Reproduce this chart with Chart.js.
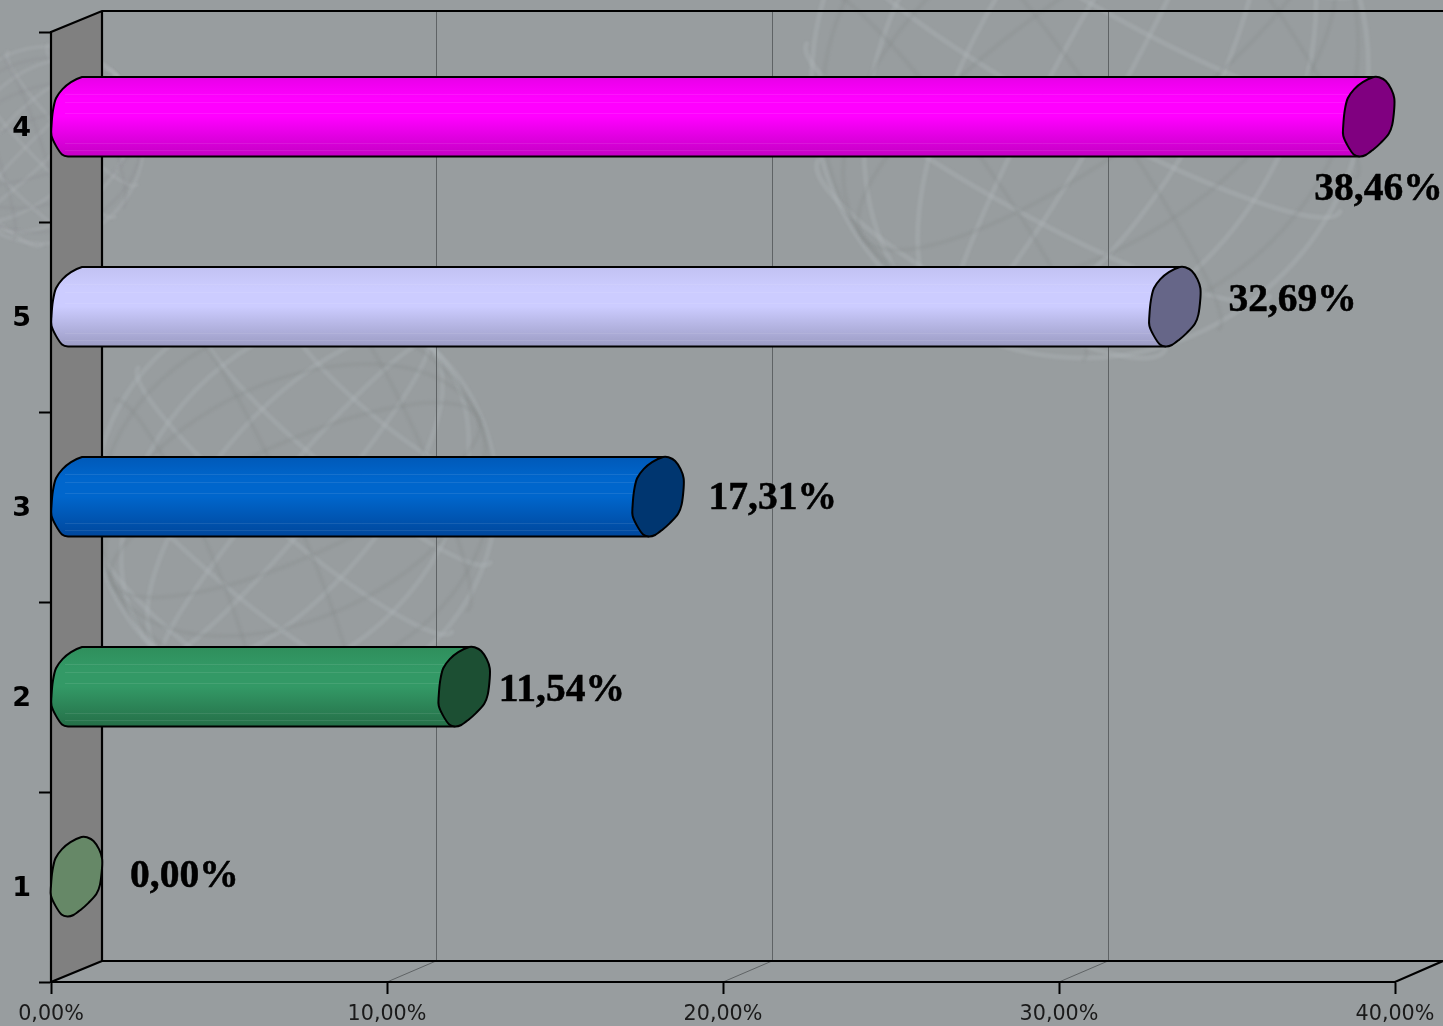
<!DOCTYPE html>
<html>
<head>
<meta charset="utf-8">
<style>html,body{margin:0;padding:0;background:#989d9f;overflow:hidden}canvas{display:block}</style>
<script src="https://cdn.jsdelivr.net/npm/chart.js@4/dist/chart.umd.min.js"></script>
</head>
<body>
<canvas id="c" width="1443" height="1026"></canvas>
<script>
const categories = ['4', '5', '3', '2', '1'];
const shares = [38.46, 32.69, 17.31, 11.54, 0];
const bodyTop = ['#e800e8', '#c2c2f2', '#0059b8', '#2f8f5c', '#669966'];
const bodyMid = ['#ff00ff', '#ccccff', '#0066cc', '#339966', '#669966'];
const bodyLow = ['#c400c4', '#9c9cc4', '#00479c', '#256f48', '#669966'];
const capColors = ['#800080', '#666688', '#003670', '#1c4f33', '#668867'];
const labelShiftX = [-29, 79, 76, 60, 79];
const labelShiftY = [63, -16, -8, -6, -10];

const DEPTH_X = 51, DEPTH_Y = 21, AXIS_X = 25.5, AXIS_Y = 10.5;
const CAP = [[5,-39],[11,-38.5],[17,-35],[22.5,-27],[25.5,-18],[25.5,-8],[23.5,8],[20,17],[12,26],[4,33],[-3,38],[-9,39.5],[-15,37.5],[-21,29],[-25.5,19],[-25.5,9],[-24,-6],[-21,-18],[-14.5,-27],[-6,-34]];
const CAP_BOTTOM = 11;
const SHEEN = [.22, .32, .46, .83, .93];

function capSegments(ctx, cx, cy, k, a, count, start) {
  const n = CAP.length;
  const p = i => { const q = CAP[((i % n) + n) % n]; return [cx + q[0], cy + q[1] * k]; };
  if (start) { const s = p(a); ctx.moveTo(s[0], s[1]); }
  for (let j = a; j < a + count; j++) {
    const p0 = p(j - 1), p1 = p(j), p2 = p(j + 1), p3 = p(j + 2);
    ctx.bezierCurveTo(p1[0] + (p2[0] - p0[0]) / 6, p1[1] + (p2[1] - p0[1]) / 6,
                      p2[0] - (p3[0] - p1[0]) / 6, p2[1] - (p3[1] - p1[1]) / 6, p2[0], p2[1]);
  }
}
function capPath(ctx, cx, cy, k) {
  ctx.beginPath();
  capSegments(ctx, cx, cy, k, 0, CAP.length, true);
  ctx.closePath();
}

/* the library's bar element, drawn as a 3D cylinder */
Chart.BarElement.prototype.draw = function (ctx) {
  const i = this.$context.dataIndex;
  const x0 = this.base + AXIS_X, xv = this.x + AXIS_X, cy = this.y - AXIS_Y, k = this.height / 78, h = this.height / 2;
  const tx = CAP[0][0], ty = CAP[0][1] * k, bx = CAP[CAP_BOTTOM][0], by = CAP[CAP_BOTTOM][1] * k;
  ctx.save();
  ctx.lineJoin = 'round';
  ctx.strokeStyle = '#000';
  ctx.lineWidth = 2;
  if (shares[i] > 0) {
    const g = ctx.createLinearGradient(0, cy - h, 0, cy + h);
    g.addColorStop(0, bodyTop[i]); g.addColorStop(.27, bodyMid[i]); g.addColorStop(.5, bodyMid[i]); g.addColorStop(1, bodyLow[i]);
    ctx.fillStyle = g;
    capPath(ctx, x0, cy, k); ctx.fill();
    ctx.beginPath();
    ctx.moveTo(x0 + tx, cy + ty); ctx.lineTo(xv + tx, cy + ty);
    ctx.lineTo(xv + bx, cy + by); ctx.lineTo(x0 + bx, cy + by);
    ctx.closePath(); ctx.fill();
    ctx.strokeStyle = 'rgba(255,255,255,.09)'; ctx.lineWidth = 1;
    ctx.beginPath();
    for (const f of SHEEN) { const y = Math.round(cy - h + f * 2 * h) + .5; ctx.moveTo(x0 - 12, y); ctx.lineTo(xv, y); }
    ctx.stroke();
    ctx.strokeStyle = '#000'; ctx.lineWidth = 2;
    ctx.beginPath();
    ctx.moveTo(xv + bx, cy + by); ctx.lineTo(x0 + bx, cy + by);
    capSegments(ctx, x0, cy, k, CAP_BOTTOM, CAP.length - CAP_BOTTOM, false);
    ctx.lineTo(xv + tx, cy + ty);
    ctx.stroke();
  }
  ctx.fillStyle = capColors[i];
  capPath(ctx, xv, cy, k); ctx.fill(); ctx.stroke();
  ctx.restore();
};

function globe(ctx, cx, cy, r, tilt, light, dark) {
  ctx.save();
  ctx.filter = 'blur(1.2px)';
  ctx.translate(cx, cy); ctx.rotate(tilt);
  ctx.lineCap = 'round';
  ctx.strokeStyle = light; ctx.lineWidth = r > 150 ? 5 : 4;
  for (const t of [.12, .42, .72, .97]) { ctx.beginPath(); ctx.ellipse(0, 0, r * t, r, 0, 0, Math.PI * 2); ctx.stroke(); }
  for (const f of [-.72, -.38, 0, .38, .72]) {
    ctx.beginPath(); ctx.ellipse(0, r * f, r * Math.sqrt(1 - f * f), r * .16, 0, 0, Math.PI); ctx.stroke();
  }
  ctx.strokeStyle = dark; ctx.lineWidth = r > 150 ? 4 : 3;
  ctx.rotate(.45);
  for (const t of [.28, .58, .86]) { ctx.beginPath(); ctx.ellipse(0, 0, r * t, r * .98, 0, 0, Math.PI * 2); ctx.stroke(); }
  for (const f of [-.55, .15, .6]) {
    ctx.beginPath(); ctx.ellipse(0, r * f, r * Math.sqrt(1 - f * f), r * .12, 0, Math.PI, Math.PI * 2); ctx.stroke();
  }
  ctx.restore();
}

const backdrop = {
  id: 'backdrop',
  beforeDraw(chart) {
    const ctx = chart.ctx;
    ctx.save();
    ctx.fillStyle = '#989d9f';
    ctx.fillRect(0, 0, chart.width, chart.height);
    globe(ctx, 1090, 75, 285, .5, 'rgba(176,182,185,.34)', 'rgba(128,133,135,.2)');
    globe(ctx, 295, 500, 205, .7, 'rgba(176,182,185,.3)', 'rgba(128,133,135,.2)');
    globe(ctx, 45, 145, 100, .8, 'rgba(176,182,185,.26)', 'rgba(128,133,135,.16)');
    ctx.restore();
  },
  beforeDatasetsDraw(chart) {
    const ctx = chart.ctx, a = chart.chartArea, x = chart.scales.x;
    const L = a.left, R = a.right, T = a.top, B = a.bottom;
    ctx.save();
    /* side wall */
    ctx.fillStyle = '#808080';
    ctx.beginPath();
    ctx.moveTo(L, T); ctx.lineTo(L + DEPTH_X, T - DEPTH_Y); ctx.lineTo(L + DEPTH_X, B - DEPTH_Y); ctx.lineTo(L, B);
    ctx.closePath(); ctx.fill();
    /* back wall grid and floor grid */
    ctx.strokeStyle = '#5f6365'; ctx.lineWidth = 1;
    ctx.beginPath();
    for (const tick of x.ticks.slice(1, -1)) {
      const px = Math.round(x.getPixelForValue(tick.value));
      ctx.moveTo(px, B); ctx.lineTo(px + 49, B - DEPTH_Y);
      ctx.moveTo(px + 49.5, B - DEPTH_Y); ctx.lineTo(px + 49.5, T - DEPTH_Y);
    }
    ctx.stroke();
    /* frame */
    ctx.strokeStyle = '#000'; ctx.lineWidth = 2.2;
    ctx.beginPath();
    ctx.moveTo(L, B); ctx.lineTo(L, T); ctx.lineTo(L + DEPTH_X, T - DEPTH_Y); ctx.lineTo(chart.width, T - DEPTH_Y);
    ctx.moveTo(L + DEPTH_X, T - DEPTH_Y); ctx.lineTo(L + DEPTH_X, B - DEPTH_Y); ctx.lineTo(chart.width, B - DEPTH_Y);
    ctx.moveTo(L, B); ctx.lineTo(L + DEPTH_X, B - DEPTH_Y);
    ctx.moveTo(L, B); ctx.lineTo(R, B); ctx.lineTo(chart.width, B - DEPTH_Y);
    ctx.stroke();
    ctx.restore();
  },
  afterDatasetsDraw(chart) {
    const ctx = chart.ctx, meta = chart.getDatasetMeta(0);
    ctx.save();
    ctx.fillStyle = '#000'; ctx.strokeStyle = '#000'; ctx.lineWidth = .5;
    ctx.font = 'bold 39.5px "Liberation Serif"';
    ctx.textAlign = 'left'; ctx.textBaseline = 'middle';
    meta.data.forEach((el, i) => {
      const text = shares[i].toFixed(2).replace('.', ',') + '%';
      ctx.fillText(text, el.x + labelShiftX[i], el.y + labelShiftY[i]);
      ctx.strokeText(text, el.x + labelShiftX[i], el.y + labelShiftY[i]);
    });
    ctx.restore();
  }
};

new Chart(document.getElementById('c'), {
  type: 'bar',
  plugins: [backdrop],
  data: {
    labels: categories,
    datasets: [{ data: shares, backgroundColor: bodyMid, barThickness: 79, clip: false }]
  },
  options: {
    indexAxis: 'y',
    responsive: false,
    animation: false,
    devicePixelRatio: 1,
    layout: { padding: { top: 32, right: 48, left: 0, bottom: 0 } },
    plugins: { legend: { display: false }, tooltip: { enabled: false } },
    scales: {
      x: {
        min: 0, max: 40,
        afterFit(s) { s.height = 44; },
        border: { color: '#000', width: 2 },
        grid: { drawOnChartArea: false, drawTicks: true, tickLength: 12, tickColor: '#000', tickWidth: 2 },
        ticks: {
          stepSize: 10, autoSkip: false, maxRotation: 0, padding: 8, color: '#1a1a1a',
          font: { family: '"DejaVu Sans"', size: 20.7 },
          callback: v => v.toFixed(2).replace('.', ',') + '%'
        }
      },
      y: {
        afterFit(s) { s.width = 51; },
        border: { color: '#000', width: 2 },
        grid: { drawOnChartArea: false, drawTicks: true, tickLength: 12, tickColor: '#000', tickWidth: 2, offset: true },
        ticks: {
          padding: 8, color: '#000', labelOffset: 2,
          font: { family: '"DejaVu Sans"', size: 27, weight: 'bold' }
        }
      }
    }
  }
});
</script>
</body>
</html>
